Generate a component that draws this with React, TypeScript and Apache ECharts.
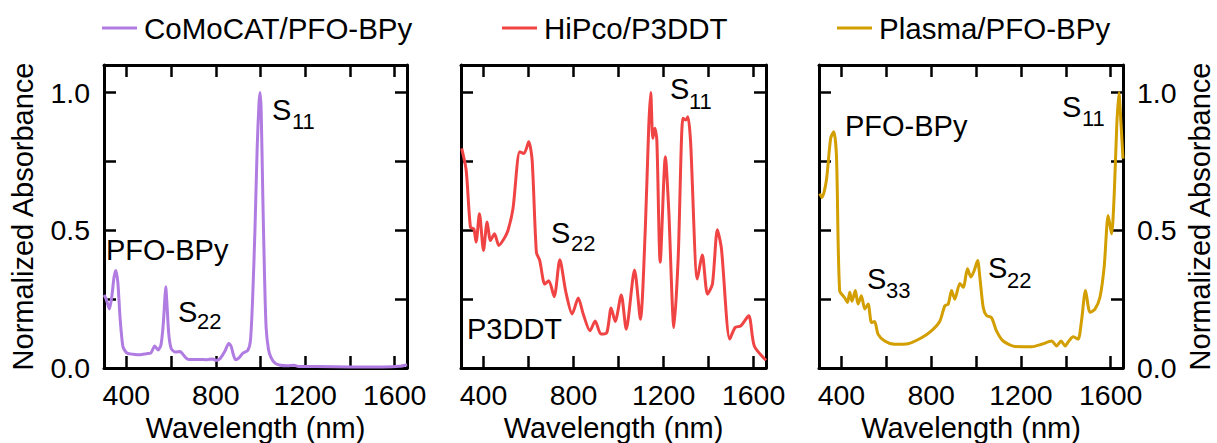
import React, { useEffect, useRef } from "react";
import * as echarts from "echarts";

// ---- data ----
const X_TICKS = [400, 600, 800, 1000, 1200, 1400, 1600];
const X_LABELS = [400, 800, 1200, 1600];
const Y_TICKS = [0, 0.25, 0.5, 0.75, 1.0];
const Y_LABELS = [0, 0.5, 1.0];

const SERIES_NAMES = ["CoMoCAT/PFO-BPy", "HiPco/P3DDT", "Plasma/PFO-BPy"];

const comocatWl = [300, 310, 324, 335, 345, 353, 362, 372, 384, 394, 405, 430, 460, 490, 510, 527, 542, 555, 565, 572, 576, 581, 590, 601, 620, 640, 651, 665, 680, 720, 760, 787, 800, 820, 840, 858, 868, 878, 888, 905, 921, 943, 955, 965, 975, 985, 993, 998, 1003, 1010, 1018, 1025, 1035, 1047, 1065, 1084, 1120, 1150, 1170, 1250, 1400, 1550, 1620, 1655];
const comocatAbs = [0.265, 0.25, 0.214, 0.26, 0.33, 0.354, 0.31, 0.18, 0.08, 0.062, 0.053, 0.05, 0.048, 0.052, 0.055, 0.08, 0.065, 0.085, 0.16, 0.25, 0.295, 0.24, 0.12, 0.07, 0.058, 0.06, 0.052, 0.038, 0.031, 0.031, 0.03, 0.033, 0.027, 0.035, 0.06, 0.089, 0.08, 0.05, 0.03, 0.038, 0.054, 0.064, 0.1, 0.26, 0.5, 0.8, 0.96, 1.0, 0.93, 0.63, 0.33, 0.147, 0.07, 0.038, 0.018, 0.011, 0.008, 0.01, 0.005, 0.005, 0.004, 0.004, 0.006, 0.012];

const hipcoWl = [303, 323, 342, 357, 367, 382, 400, 416, 431, 449, 468, 491, 509, 531, 561, 580, 601, 616, 635, 650, 672, 690, 714, 739, 766, 794, 821, 843, 873, 896, 922, 948, 967, 985, 1012, 1034, 1071, 1097, 1119, 1134, 1143, 1152, 1161, 1170, 1185, 1208, 1223, 1246, 1265, 1286, 1298, 1308, 1320, 1350, 1372, 1395, 1417, 1439, 1457, 1494, 1518, 1543, 1578, 1603, 1655];
const hipcoAbs = [0.797, 0.718, 0.511, 0.505, 0.457, 0.56, 0.427, 0.53, 0.463, 0.487, 0.445, 0.469, 0.5, 0.579, 0.785, 0.779, 0.821, 0.755, 0.42, 0.39, 0.305, 0.317, 0.259, 0.393, 0.275, 0.196, 0.254, 0.196, 0.135, 0.171, 0.123, 0.129, 0.218, 0.169, 0.265, 0.141, 0.356, 0.177, 0.511, 0.876, 1.0, 0.834, 0.87, 0.828, 0.384, 0.767, 0.572, 0.147, 0.402, 0.907, 0.9, 0.912, 0.821, 0.323, 0.41, 0.268, 0.305, 0.502, 0.433, 0.105, 0.147, 0.153, 0.19, 0.08, 0.028];

const plasmaWl = [303, 313, 333, 352, 366, 378, 392, 415, 427, 437, 447, 462, 474, 489, 504, 519, 534, 548, 563, 593, 638, 697, 757, 801, 838, 861, 876, 891, 905, 928, 943, 962, 977, 992, 1007, 1017, 1032, 1047, 1069, 1091, 1121, 1173, 1247, 1292, 1337, 1359, 1379, 1397, 1412, 1433, 1455, 1470, 1488, 1508, 1530, 1552, 1571, 1589, 1604, 1616, 1627, 1637, 1646, 1655];
const plasmaAbs = [0.633, 0.619, 0.682, 0.834, 0.858, 0.767, 0.281, 0.254, 0.238, 0.275, 0.242, 0.281, 0.232, 0.262, 0.214, 0.232, 0.165, 0.169, 0.123, 0.098, 0.086, 0.088, 0.11, 0.135, 0.169, 0.226, 0.232, 0.281, 0.25, 0.307, 0.293, 0.36, 0.33, 0.354, 0.39, 0.329, 0.22, 0.19, 0.183, 0.135, 0.098, 0.078, 0.077, 0.086, 0.098, 0.08, 0.098, 0.08, 0.096, 0.113, 0.105, 0.171, 0.281, 0.202, 0.214, 0.256, 0.366, 0.554, 0.487, 0.633, 0.876, 1.0, 0.888, 0.76];

// ---- styles ----
const FONT = '"Liberation Sans", Arial, Helvetica, sans-serif';
const COLORS = ["#B07CE2", "#F04444", "#D29E00"];
const GRIDS = [
  { left: 104, top: 65, width: 303, height: 303, outerBoundsMode: "none", containLabel: false },
  { left: 461, top: 65, width: 305, height: 303, outerBoundsMode: "none", containLabel: false },
  { left: 819, top: 65, width: 304, height: 303, outerBoundsMode: "none", containLabel: false },
];
const TICK_FS = 28.5;
const TITLE_FS = 29;
const ANN_FS = 29;
const SUB_FS = 22;

const zip = (a: number[], b: number[]) => a.map((v, i) => [v, b[i]]);

function xAxis(gi: number, bottom: boolean) {
  return {
    type: "value",
    gridIndex: gi,
    min: 300,
    max: 1655,
    position: bottom ? "bottom" : "top",
    axisLine: { show: true, onZero: false, lineStyle: { color: "#000", width: 3 } },
    axisTick: { show: true, inside: true, length: 12, lineStyle: { color: "#000", width: 2.5 }, customValues: X_TICKS },
    axisLabel: {
      show: bottom,
      customValues: X_LABELS,
      margin: 12,
      fontSize: TICK_FS,
      color: "#000",
      fontFamily: FONT,
      formatter: (v: number) => String(v),
    },
    splitLine: { show: false },
    name: bottom ? "Wavelength (nm)" : "",
    nameLocation: "middle",
    nameGap: 42,
    nameTextStyle: { fontSize: TITLE_FS, color: "#000", fontFamily: FONT },
  };
}

function yAxis(gi: number, left: boolean, labels: boolean) {
  return {
    type: "value",
    gridIndex: gi,
    min: 0,
    max: 1.1,
    position: left ? "left" : "right",
    axisLine: { show: true, onZero: false, lineStyle: { color: "#000", width: 3 } },
    axisTick: { show: true, inside: true, length: 12, lineStyle: { color: "#000", width: 2.5 }, customValues: Y_TICKS },
    axisLabel: {
      show: labels,
      customValues: Y_LABELS,
      margin: 14,
      fontSize: TICK_FS,
      color: "#000",
      fontFamily: FONT,
      formatter: (v: number) => v.toFixed(1),
    },
    splitLine: { show: false },
    name: labels ? "Normalized Absorbance" : "",
    nameLocation: "middle",
    nameRotate: 90,
    nameGap: left ? 67 : 62,
    nameTextStyle: { fontSize: TITLE_FS, color: "#000", fontFamily: FONT },
  };
}

function label(x: number, y: number, text: string, size: number) {
  return {
    type: "text",
    x,
    y,
    silent: true,
    style: { text, fill: "#000", fontSize: size, fontFamily: FONT, align: "left", verticalAlign: "middle" },
  };
}

export default function App() {
  const ref = useRef<HTMLDivElement>(null);
  useEffect(() => {
    if (!ref.current) return;
    const chart = echarts.init(ref.current, null, { renderer: "svg" });
    const datasets = [zip(comocatWl, comocatAbs), zip(hipcoWl, hipcoAbs), zip(plasmaWl, plasmaAbs)];
    const legendLefts = [102, 502, 837];
    chart.setOption({
      animation: false,
      backgroundColor: "#fff",
      grid: GRIDS,
      xAxis: [xAxis(0, true), xAxis(0, false), xAxis(1, true), xAxis(1, false), xAxis(2, true), xAxis(2, false)],
      yAxis: [yAxis(0, true, true), yAxis(0, false, false), yAxis(1, true, false), yAxis(1, false, false), yAxis(2, true, false), yAxis(2, false, true)],
      legend: SERIES_NAMES.map((n, i) => ({
        data: [n],
        left: legendLefts[i],
        top: 13,
        padding: 0,
        icon: "rect",
        itemWidth: 35,
        itemHeight: 3,
        textStyle: { fontSize: 29.5, color: "#000", fontFamily: FONT, padding: [0, 0, 0, 2] },
        selectedMode: false,
      })),
      series: SERIES_NAMES.map((n, i) => ({
        name: n,
        type: "line",
        xAxisIndex: i * 2,
        yAxisIndex: i * 2,
        data: datasets[i],
        showSymbol: false,
        smooth: 0.25,
        clip: true,
        color: COLORS[i],
        lineStyle: { color: COLORS[i], width: 3 },
      })),
      graphic: [
        label(272, 110, "S", ANN_FS),
        label(292, 121, "11", SUB_FS),
        label(106, 250, "PFO-BPy", ANN_FS),
        label(178, 312, "S", ANN_FS),
        label(197, 321, "22", SUB_FS),
        label(670, 89, "S", ANN_FS),
        label(689, 101, "11", SUB_FS),
        label(551, 233, "S", ANN_FS),
        label(571, 243, "22", SUB_FS),
        label(467, 329, "P3DDT", ANN_FS),
        label(845, 126, "PFO-BPy", ANN_FS),
        label(867, 279, "S", ANN_FS),
        label(886, 290, "33", SUB_FS),
        label(988, 268, "S", ANN_FS),
        label(1007, 280, "22", SUB_FS),
        label(1062, 107, "S", ANN_FS),
        label(1082, 118, "11", SUB_FS),
      ],
    });
    return () => chart.dispose();
  }, []);
  return <div ref={ref} style={{ position: "fixed", left: 0, top: 0, width: 1217, height: 443 }} />;
}
